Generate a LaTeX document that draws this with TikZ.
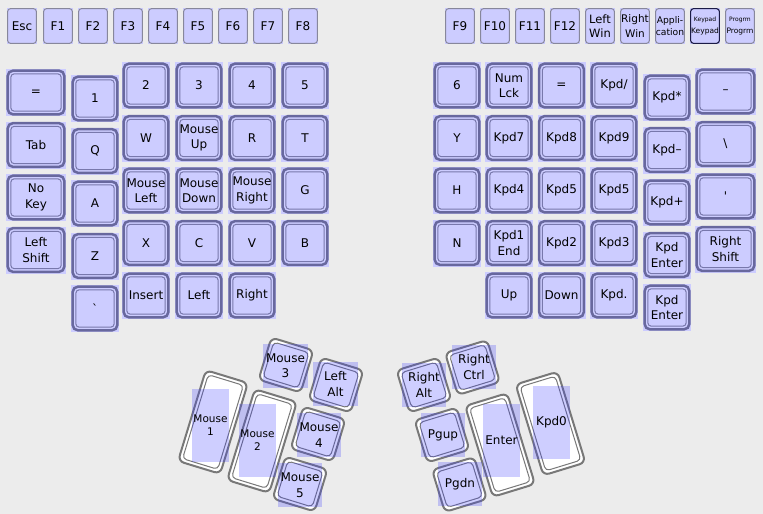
\documentclass[tikz,border=0pt]{standalone}
\usepackage{fontspec}
\setmainfont{DejaVu Sans}
\usetikzlibrary{calc}
\definecolor{bg}{RGB}{236,236,236}
\definecolor{lav}{RGB}{204,204,255}
\definecolor{kline}{RGB}{104,104,158}
\definecolor{kline2}{RGB}{120,120,172}
\definecolor{fline}{RGB}{135,135,155}
\definecolor{tline}{RGB}{120,120,120}
\definecolor{ovl}{RGB}{60,60,255}
\definecolor{navyline}{RGB}{28,28,70}
\tikzset{
  ktext/.style={inner sep=0pt, align=center, font=\fontsize{12}{15.5}\selectfont, text=black},
  thumbtext/.style={inner sep=0pt, align=center, font=\fontsize{10.5}{13}\selectfont, text=black},
  outerline/.style={kline, line width=2.5pt, rounded corners=5.5pt},
  innerline/.style={kline2, line width=1pt, rounded corners=3.5pt},
  fnline/.style={fline, line width=1pt, rounded corners=3pt},
  kpline/.style={navyline, line width=1.1pt, rounded corners=3pt},
  touter/.style={tline, line width=2pt, rounded corners=6pt, fill=white},
  tinner/.style={tline, line width=1pt, rounded corners=4pt},
  overlay/.style={ovl, fill opacity=0.25}
}
% main key: name, x1, y1, x2, y2, text
\newcommand{\mkey}[6]{%
  \fill[lav] (#2,#3) rectangle (#4,#5);
  \draw[outerline] ({#2+1.6},{#3+1.6}) rectangle ({#4-1.6},{#5-1.6});
  \draw[innerline] ({#2+4.8},{#3+4.8}) rectangle ({#4-4.8},{#5-4.8});
  \node[ktext] (#1) at ({(#2+#4)/2},{(#3+#5)/2}) {#6};}
% function key: name, x, text, font, line style
\newcommand{\fkey}[5]{%
  \fill[lav] (#2,8) rectangle ({#2+30},44);
  \draw[#5] ({#2+0.6},8.6) rectangle ({#2+29.4},43.4);
  \node[ktext, font=#4] (#1) at ({#2+15},26) {#3};}
% thumb key body: cx, cy, angle, w, h
\newcommand{\tkey}[5]{%
  \begin{scope}[shift={(#1,#2)}, rotate=#3]
    \draw[touter] ({-#4/2},{-#5/2}) rectangle ({#4/2},{#5/2});
    \draw[tinner] ({-#4/2+3.6},{-#5/2+3.6}) rectangle ({#4/2-3.6},{#5/2-3.6});
  \end{scope}}
% thumb overlay + label: name, cx, cy, w, h, text, style
\newcommand{\tovl}[7]{%
  \fill[overlay] ({#2-#4/2},{#3-#5/2}) rectangle ({#2+#4/2},{#3+#5/2});
  \node[#7] (#1) at (#2,#3) {#6};}

\begin{document}
\begin{tikzpicture}[x=1pt, y=-1pt]
\fill[bg] (0,0) rectangle (763,514);
\useasboundingbox (0,0) rectangle (763,514);

% ---- function row left
\def\ff{\fontsize{12}{14}\selectfont}
\fkey{esc}{7}{Esc}{\ff}{fnline}
\fkey{f1}{43}{F1}{\ff}{fnline}
\fkey{f2}{78}{F2}{\ff}{fnline}
\fkey{f3}{113}{F3}{\ff}{fnline}
\fkey{f4}{148}{F4}{\ff}{fnline}
\fkey{f5}{183}{F5}{\ff}{fnline}
\fkey{f6}{218}{F6}{\ff}{fnline}
\fkey{f7}{253}{F7}{\ff}{fnline}
\fkey{f8}{288}{F8}{\ff}{fnline}
% ---- function row right
\fkey{f9}{445}{F9}{\ff}{fnline}
\fkey{f10}{480}{F10}{\ff}{fnline}
\fkey{f11}{515}{F11}{\ff}{fnline}
\fkey{f12}{550}{F12}{\ff}{fnline}
\fkey{lwin}{585}{Left\\Win}{\fontsize{11.5}{14.5}\selectfont}{fnline}
\fkey{rwin}{620}{Right\\Win}{\fontsize{10.5}{14.5}\selectfont}{fnline}
\fkey{appl}{655}{Appli-\\cation}{\fontsize{9.2}{12}\selectfont}{fnline}
\fkey{kpad}{690}{{\fontsize{6}{7}\selectfont Keypad}\\[3pt]{\fontsize{7.5}{9}\selectfont Keypad}}{\fontsize{7.5}{9}\selectfont}{kpline}
\fkey{prog}{725}{{\fontsize{6}{7}\selectfont Progrm}\\[3pt]{\fontsize{7.5}{9}\selectfont Progrm}}{\fontsize{7.5}{9}\selectfont}{fnline}

% ---- left main block
\mkey{eq}{6}{69}{66}{116}{=}
\mkey{tab}{6}{121.5}{66}{168.5}{Tab}
\mkey{nokey}{6}{174}{66}{221}{No\\Key}
\mkey{lshift}{6}{226.5}{66}{273.5}{Left\\Shift}

\mkey{k1}{71}{75}{119}{122}{1}
\mkey{kq}{71}{127.5}{119}{174.5}{Q}
\mkey{ka}{71}{180}{119}{227}{A}
\mkey{kz}{71}{232.5}{119}{279.5}{Z}
\mkey{kgrave}{71}{285}{119}{332}{\textasciigrave}

\mkey{k2}{122}{62}{170}{109}{2}
\mkey{kw}{122}{114.5}{170}{161.5}{W}
\mkey{mleft}{122}{167}{170}{214}{Mouse\\Left}
\mkey{kx}{122}{219.5}{170}{266.5}{X}
\mkey{ins}{122}{272}{170}{319}{Insert}

\mkey{k3}{175}{62}{223}{109}{3}
\mkey{mup}{175}{114.5}{223}{161.5}{Mouse\\Up}
\mkey{mdown}{175}{167}{223}{214}{Mouse\\Down}
\mkey{kc}{175}{219.5}{223}{266.5}{C}
\mkey{left}{175}{272}{223}{319}{Left}

\mkey{k4}{228}{62}{276}{109}{4}
\mkey{kr}{228}{114.5}{276}{161.5}{R}
\mkey{mright}{228}{167}{276}{214}{Mouse\\Right}
\mkey{kv}{228}{219.5}{276}{266.5}{V}
\mkey{right}{228}{272}{276}{319}{Right}

\mkey{k5}{281}{62}{329}{109}{5}
\mkey{kt}{281}{114.5}{329}{161.5}{T}
\mkey{kg}{281}{167}{329}{214}{G}
\mkey{kb}{281}{219.5}{329}{266.5}{B}

% ---- right main block
\mkey{k6}{433}{62}{481}{109}{6}
\mkey{ky}{433}{114.5}{481}{161.5}{Y}
\mkey{kh}{433}{167}{481}{214}{H}
\mkey{kn}{433}{219.5}{481}{266.5}{N}

\mkey{numlck}{485}{62}{533}{109}{Num\\Lck}
\mkey{kp7}{485}{114.5}{533}{161.5}{Kpd7}
\mkey{kp4}{485}{167}{533}{214}{Kpd4}
\mkey{kp1}{485}{219.5}{533}{266.5}{Kpd1\\End}
\mkey{up}{485}{272}{533}{319}{Up}

\mkey{keq}{537.5}{62}{585.5}{109}{=}
\mkey{kp8}{537.5}{114.5}{585.5}{161.5}{Kpd8}
\mkey{kp5a}{537.5}{167}{585.5}{214}{Kpd5}
\mkey{kp2}{537.5}{219.5}{585.5}{266.5}{Kpd2}
\mkey{down}{537.5}{272}{585.5}{319}{Down}

\mkey{kpdiv}{590}{62}{638}{109}{Kpd/}
\mkey{kp9}{590}{114.5}{638}{161.5}{Kpd9}
\mkey{kp5b}{590}{167}{638}{214}{Kpd5}
\mkey{kp3}{590}{219.5}{638}{266.5}{Kpd3}
\mkey{kpdot}{590}{272}{638}{319}{Kpd.}

\mkey{kpmul}{643}{74}{691}{121}{Kpd*}
\mkey{kpmin}{643}{126.5}{691}{173.5}{Kpd–}
\mkey{kpplus}{643}{179}{691}{226}{Kpd+}
\mkey{kpent1}{643}{231.5}{691}{278.5}{Kpd\\Enter}
\mkey{kpent2}{643}{284}{691}{331}{Kpd\\Enter}

\mkey{minus}{695}{68}{756}{115}{–}
\mkey{bslash}{695}{120.5}{756}{167.5}{\textbackslash}
\mkey{quote}{695}{173}{756}{220}{\textquotesingle}
\mkey{rshift}{695}{225.5}{756}{272.5}{Right\\Shift}

% ---- left thumb cluster
\tkey{213}{422}{-17}{44}{95}
\tkey{262}{441}{-17}{44}{95}
\tkey{286}{365}{-17}{44}{44}
\tkey{336}{385}{-17}{44}{44}
\tkey{318}{434}{-17}{44}{44}
\tkey{300}{484}{-17}{44}{44}
% ---- right thumb cluster
\tkey{550.5}{423.5}{17}{44}{95}
\tkey{500}{445}{17}{44}{95}
\tkey{472.5}{367.5}{17}{44}{44}
\tkey{424}{385}{17}{44}{44}
\tkey{442}{435}{17}{44}{44}
\tkey{459.5}{484.5}{17}{44}{44}

% ---- overlays and labels
\tovl{mouse1}{210.5}{425.5}{37}{73}{Mouse\\1}{thumbtext}
\tovl{mouse2}{257.5}{440.5}{37}{73}{Mouse\\2}{thumbtext}
\tovl{mouse3}{285.5}{365.5}{45}{44}{Mouse\\3}{ktext}
\tovl{lalt}{335.5}{384}{45}{44}{Left\\Alt}{ktext}
\tovl{mouse4}{319}{435}{44}{44}{Mouse\\4}{ktext}
\tovl{mouse5}{300}{485}{44}{44}{Mouse\\5}{ktext}

\tovl{rctrl}{474}{367}{44}{44}{Right\\Ctrl}{ktext}
\tovl{ralt}{424}{385}{44}{44}{Right\\Alt}{ktext}
\tovl{pgup}{443}{435}{44}{44}{Pgup}{ktext}
\tovl{pgdn}{460}{484}{44}{44}{Pgdn}{ktext}
\tovl{enter}{501.5}{440.5}{37}{73}{Enter}{ktext}
\tovl{kpd0}{551.5}{422}{37}{73}{Kpd0}{ktext}
\end{tikzpicture}
\end{document}
